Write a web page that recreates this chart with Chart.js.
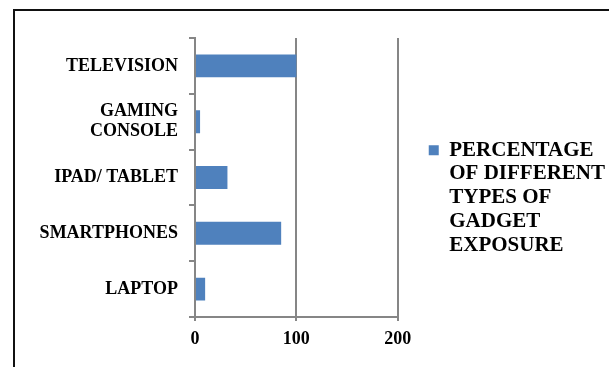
<!DOCTYPE html>
<html>
<head>
<meta charset="utf-8">
<script src="https://cdn.jsdelivr.net/npm/chart.js@4/dist/chart.umd.min.js"></script>
<style>
  html, body { margin: 0; padding: 0; background: #fff; width: 609px; height: 367px; overflow: hidden; }
  #frame {
    position: absolute; left: 13px; top: 9px;
    width: 640px; height: 400px;
    border-left: 2px solid #111; border-top: 2px solid #111;
  }
  #chart { position: absolute; left: 0; top: 0; }
</style>
</head>
<body>
<div id="frame"><canvas id="chart" width="600" height="349"></canvas></div>
<script>
// Gadget categories, top to bottom
const categories = ['TELEVISION', ['GAMING', 'CONSOLE'], 'IPAD/ TABLET', 'SMARTPHONES', 'LAPTOP'];
// Percentage of children exposed to each gadget
const exposure = [100, 5, 32, 85, 10];
// Value axis ticks
const valueTicks = [0, 100, 200];
// Series name, broken over lines as shown in the key
const seriesName = 'PERCENTAGE OF DIFFERENT TYPES OF GADGET EXPOSURE';
const legendLines = ['PERCENTAGE', 'OF DIFFERENT', 'TYPES OF', 'GADGET', 'EXPOSURE'];

const serif = '"Liberation Serif", "Times New Roman", "DejaVu Serif", serif';
const axisGrey = '#868686';

new Chart(document.getElementById('chart'), {
  type: 'bar',
  data: {
    labels: categories,
    datasets: [{
      label: seriesName,
      data: exposure,
      backgroundColor: '#4f81bd',
      borderWidth: 0,
      barPercentage: 0.41,
      categoryPercentage: 1
    }]
  },
  options: {
    indexAxis: 'y',
    responsive: false,
    animation: false,
    devicePixelRatio: 1,
    layout: { padding: { top: 27, right: 0, bottom: 0, left: 0 } },
    scales: {
      x: {
        min: valueTicks[0],
        max: valueTicks[valueTicks.length - 1],
        afterBuildTicks(scale) {
          scale.ticks = valueTicks.map(v => ({ value: v }));
        },
        ticks: {
          color: '#000',
          padding: 8,
          font: { family: serif, size: 18, weight: 'bold', lineHeight: 1.2 }
        },
        grid: { color: axisGrey, lineWidth: 2, tickLength: 4 },
        border: { color: axisGrey, width: 2 },
        afterFit(scale) { scale.height = 43; }
      },
      y: {
        ticks: {
          color: '#000',
          padding: 11,
          font: { family: serif, size: 18, weight: 'bold', lineHeight: 1.1 }
        },
        grid: { drawOnChartArea: false, offset: true, color: axisGrey, lineWidth: 2, tickLength: 6 },
        border: { color: axisGrey, width: 2 },
        afterFit(scale) { scale.width = 180; }
      }
    },
    plugins: {
      tooltip: { enabled: false },
      legend: {
        position: 'right',
        align: 'center',
        maxWidth: 320,
        labels: {
          color: '#000',
          boxWidth: 10,
          boxHeight: 10,
          padding: 31,
          font: { family: serif, size: 21, weight: 'bold', lineHeight: 1.13 },
          generateLabels(chart) {
            const items = Chart.defaults.plugins.legend.labels.generateLabels(chart);
            items.forEach(it => { it.text = legendLines; it.lineWidth = 0; });
            return items;
          }
        }
      }
    }
  }
});
</script>
</body>
</html>
